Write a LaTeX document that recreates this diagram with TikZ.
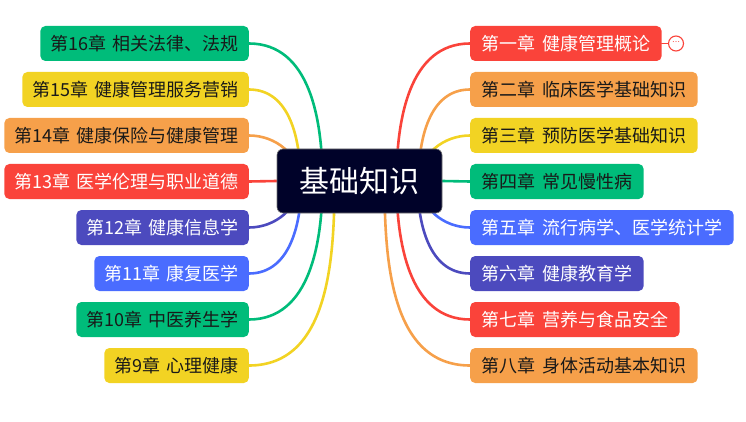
\documentclass[tikz,border=0pt]{standalone}
\usepackage{fontspec}
\setmainfont[WordSpace=1.6]{Noto Sans CJK SC}
\newfontfamily\symfont{DejaVu Sans}
\usetikzlibrary{calc}
\definecolor{cred}{RGB}{250,67,58}
\definecolor{corange}{RGB}{246,160,74}
\definecolor{cyellow}{RGB}{242,211,35}
\definecolor{cgreen}{RGB}{0,188,122}
\definecolor{cblue}{RGB}{74,108,255}
\definecolor{cpurple}{RGB}{76,74,190}
\definecolor{croot}{RGB}{0,2,41}
\definecolor{cdark}{RGB}{25,25,25}
\pgfdeclarelayer{bg}
\pgfsetlayers{bg,main}
\begin{document}
\begin{tikzpicture}[x=1pt,y=-1pt,
  chap/.style={rounded corners=5pt, minimum height=35pt, inner xsep=11.5pt, inner ysep=0pt,
    font=\fontsize{18}{18}\selectfont},
  rchap/.style={chap, anchor=west},
  lchap/.style={chap, anchor=east, inner xsep=10pt},
  dk/.style={text=cdark},
  wt/.style={text=white},
  link/.style={line width=2.6pt, line cap=round}]
\useasboundingbox (0,0) rectangle (746,422);

\node[rounded corners=6pt, fill=croot, draw=black!55, line width=0.6pt, text=white,
  minimum width=165pt, minimum height=64pt, inner sep=0pt,
  font=\fontsize{30}{30}\selectfont] (root) at (359.5,181) {基础知识};

% right side
\node[rchap, fill=cred, wt] (c1) at (470,43.5) {第一章 健康管理概论};
\node[rchap, fill=corange, dk] (c2) at (470,89.5) {第二章 临床医学基础知识};
\node[rchap, fill=cyellow, dk] (c3) at (470,135.5) {第三章 预防医学基础知识};
\node[rchap, fill=cgreen, dk] (c4) at (470,181.5) {第四章 常见慢性病};
\node[rchap, fill=cblue, wt] (c5) at (470,227.5) {第五章 流行病学、医学统计学};
\node[rchap, fill=cpurple, wt] (c6) at (470,273.5) {第六章 健康教育学};
\node[rchap, fill=cred, wt] (c7) at (470,319.5) {第七章 营养与食品安全};
\node[rchap, fill=corange, dk] (c8) at (470,365.5) {第八章 身体活动基本知识};

% left side
\node[lchap, fill=cgreen, dk] (c16) at (249,43.5) {第16章 相关法律、法规};
\node[lchap, fill=cyellow, dk] (c15) at (249,89.5) {第15章 健康管理服务营销};
\node[lchap, fill=corange, dk] (c14) at (249,135.5) {第14章 健康保险与健康管理};
\node[lchap, fill=cred, wt] (c13) at (249,181.5) {第13章 医学伦理与职业道德};
\node[lchap, fill=cpurple, wt] (c12) at (249,227.5) {第12章 健康信息学};
\node[lchap, fill=cblue, wt] (c11) at (249,273.5) {第11章 康复医学};
\node[lchap, fill=cgreen, dk] (c10) at (249,319.5) {第10章 中医养生学};
\node[lchap, fill=cyellow, dk] (c9) at (249,365.5) {第9章 心理健康};

% collapse marker
\node[circle, draw=cred, fill=white, line width=1.1pt, minimum size=15pt, inner sep=0pt,
  text=cred, font=\symfont\fontsize{8}{8}\selectfont] (more) at (676,43.5) {⋯};

\begin{pgfonlayer}{bg}
\draw[link, cred, line width=1.5pt] (c1.east) -- (more.west);
% right connectors
\draw[link, cred]    ([xshift=37pt]root.center) to[out=90,in=180] (c1.west);
\draw[link, corange] ([xshift=59pt]root.center) to[out=90,in=180] (c2.west);
\draw[link, cyellow] ([xshift=60pt]root.center) to[out=90,in=180] (c3.west);
\draw[link, cgreen]  (root.east) -- (c4.west);
\draw[link, cblue]   ([xshift=60pt]root.center) to[out=-90,in=180] (c5.west);
\draw[link, cpurple] ([xshift=58pt]root.center) to[out=-90,in=180] (c6.west);
\draw[link, cred]    ([xshift=37pt]root.center) to[out=-90,in=180] (c7.west);
\draw[link, corange] ([xshift=25pt]root.center) to[out=-90,in=180] (c8.west);
% left connectors
\draw[link, cgreen]  ([xshift=-37pt]root.center) to[out=90,in=0] (c16.east);
\draw[link, cyellow] ([xshift=-59pt]root.center) to[out=90,in=0] (c15.east);
\draw[link, corange] ([xshift=-60pt]root.center) to[out=90,in=0] (c14.east);
\draw[link, cred]    (root.west) -- (c13.east);
\draw[link, cpurple] ([xshift=-60pt]root.center) to[out=-90,in=0] (c12.east);
\draw[link, cblue]   ([xshift=-58pt]root.center) to[out=-90,in=0] (c11.east);
\draw[link, cgreen]  ([xshift=-37pt]root.center) to[out=-90,in=0] (c10.east);
\draw[link, cyellow] ([xshift=-25pt]root.center) to[out=-90,in=0] (c9.east);
\end{pgfonlayer}
\end{tikzpicture}
\end{document}
